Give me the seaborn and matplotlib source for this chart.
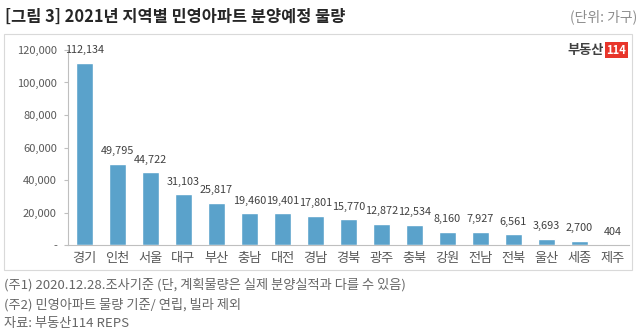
import matplotlib
matplotlib.use("Agg")
import matplotlib.pyplot as plt
import seaborn as sns
import pandas as pd
from matplotlib.patches import Rectangle

regions = ["경기", "인천", "서울", "대구", "부산", "충남", "대전", "경남", "경북",
           "광주", "충북", "강원", "전남", "전북", "울산", "세종", "제주"]
values = [112134, 49795, 44722, 31103, 25817, 19460, 19401, 17801, 15770,
          12872, 12534, 8160, 7927, 6561, 3693, 2700, 404]
yticks = [0, 20000, 40000, 60000, 80000, 100000, 120000]
ytick_labels = ["-", "20,000", "40,000", "60,000", "80,000", "100,000", "120,000"]

title = "[그림 3] 2021년 지역별 민영아파트 분양예정 물량"
unit = "(단위: 가구)"
notes = ["(주1) 2020.12.28.조사기준 (단, 계획물량은 실제 분양실적과 다를 수 있음)",
         "(주2) 민영아파트 물량 기준/ 연립, 빌라 제외",
         "자료: 부동산114 REPS"]

sns.set_style("white")
plt.rcParams['font.family'] = ['Noto Sans CJK KR', 'DejaVu Sans']

W, H = 643, 335
fig = plt.figure(figsize=(W / 100, H / 100), dpi=100)
ax = fig.add_axes([68 / W, 1 - 245 / H, (629 - 68) / W, (245 - 50) / H])

df = pd.DataFrame({"region": regions, "value": values})
sns.barplot(data=df, x="region", y="value", color="#5AA2CB", width=0.5,
            saturation=1, ax=ax)

ax.set_xlim(-0.5, len(regions) - 0.5)
ax.set_ylim(0, 120000)
ax.set_yticks(yticks)
ax.set_yticklabels(ytick_labels, fontsize=8, color="#595959")
ax.set_xlabel("")
ax.set_ylabel("")
ax.tick_params(axis="x", length=0, labelsize=9.5, labelcolor="#595959", pad=5)
ax.tick_params(axis="y", length=3, width=0.8, color="#BFBFBF", left=True, pad=5)
for s in ["top", "right"]:
    ax.spines[s].set_visible(False)
ax.spines["left"].set_color("#BFBFBF")
ax.spines["bottom"].set_color("#BFBFBF")
ax.spines["left"].set_linewidth(0.8)
ax.spines["bottom"].set_linewidth(0.8)

for i, v in enumerate(values):
    ax.annotate(f"{v:,}", (i, v), xytext=(0, 5.5), textcoords="offset points",
                ha="center", va="bottom", fontsize=7.8, color="#404040",
                annotation_clip=False)

# frame around chart
fig.add_artist(Rectangle((4 / W, 1 - 270 / H), (632 - 4) / W, (270 - 34) / H,
                         transform=fig.transFigure, fill=False,
                         edgecolor="#D9D9D9", linewidth=0.8))

fig.text(5 / W, 1 - 17 / H, title, fontsize=11.8, fontweight="bold",
         color="#262626", ha="left", va="center")
fig.text(637 / W, 1 - 17 / H, unit, fontsize=10, color="#8C8C8C",
         ha="right", va="center")

# logo
fig.text(604 / W, 1 - 50 / H, "부동산", fontsize=9.5, fontweight="bold",
         color="#404040", ha="right", va="center")
fig.text(616.5 / W, 1 - 50 / H, "114", fontsize=8, fontweight="bold",
         color="white", ha="center", va="center",
         bbox=dict(boxstyle="square,pad=0.15", fc="#E8352A", ec="none"))

for k, n in enumerate(notes):
    fig.text(4 / W, 1 - (285 + 19.5 * k) / H, n, fontsize=9.5,
             color="#666666", ha="left", va="center")

fig.savefig("out.png", dpi=100)
